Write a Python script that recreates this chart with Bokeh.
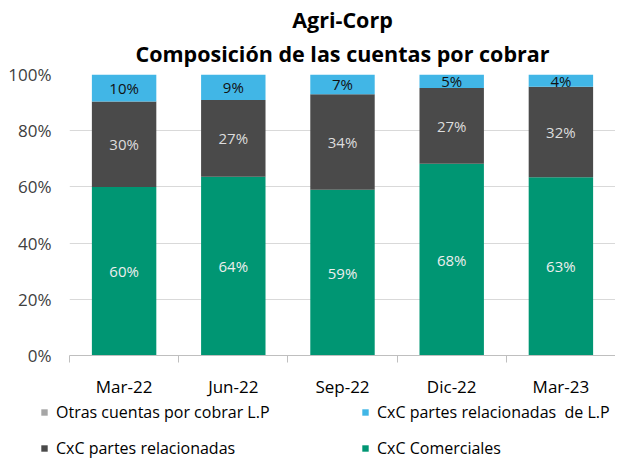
from bokeh.plotting import figure
from bokeh.models import (Title, FixedTicker, Legend, LegendItem, ColumnDataSource,
                          NumeralTickFormatter, Range1d)
from bokeh.core.properties import value
from bokeh.embed import file_html
from bokeh.resources import INLINE

categories = ["Mar-22", "Jun-22", "Sep-22", "Dic-22", "Mar-23"]
otras_lp = [0.0, 0.0, 0.0, 0.0, 0.0]
cxc_rel_lp = [9.6, 9.1, 7.0, 4.8, 4.4]
cxc_rel = [30.4, 27.3, 34.0, 27.0, 32.2]
cxc_com = [60.0, 63.6, 59.0, 68.2, 63.4]
series_names = ["Otras cuentas por cobrar L.P", "CxC partes relacionadas  de L.P",
                "CxC partes relacionadas", "CxC Comerciales"]
y_ticks = [0, 20, 40, 60, 80, 100]

FONT = "Open Sans"
GREEN = "#009673"
DARK = "#4a4a4a"
BLUE = "#41b6e6"
GRAY = "#a6a6a6"
W = 615

xs = [i + 0.5 for i in range(len(categories))]
src = ColumnDataSource(dict(
    x=xs,
    com=[v / 100 for v in cxc_com],
    rel=[v / 100 for v in cxc_rel],
    rellp=[v / 100 for v in cxc_rel_lp],
    otras=[v / 100 for v in otras_lp],
))

p = figure(width=W, height=400, output_backend="svg", toolbar_location=None,
           x_range=Range1d(0, len(categories)), y_range=Range1d(0, 1),
           min_border_left=69, min_border_right=0, min_border_bottom=42,
           min_border_top=74)
p.title = None
p.outline_line_color = None

p.add_layout(Title(text="Composición de las cuentas por cobrar", align="center",
                   text_font=FONT, text_font_size="21.5px", text_font_style="bold",
                   text_color="#000000", standoff=13), "above")
p.add_layout(Title(text="Agri-Corp", align="center",
                   text_font=FONT, text_font_size="21.5px", text_font_style="bold",
                   text_color="#000000", standoff=-7), "above")

rs = p.vbar_stack(["com", "rel", "rellp", "otras"], x="x", width=0.59, source=src,
                  color=[GREEN, DARK, BLUE, GRAY], line_color=None)

# data labels
cum = [0.0] * len(categories)
for vals, col in [(cxc_com, "#eeeeee"), (cxc_rel, "#dddddd"), (cxc_rel_lp, "#111111")]:
    ys = [(c + v / 2) / 100 for c, v in zip(cum, vals)]
    cum = [c + v for c, v in zip(cum, vals)]
    p.text(x=xs, y=ys, text=[f"{round(v)}%" for v in vals], text_align="center",
           text_baseline="middle", text_font=value(FONT), text_font_size="15px",
           text_color=col)

# axes
p.yaxis.ticker = FixedTicker(ticks=[t / 100 for t in y_ticks])
p.yaxis.formatter = NumeralTickFormatter(format="0%")
p.yaxis.axis_line_color = None
p.yaxis.major_tick_line_color = None
p.yaxis.minor_tick_line_color = None
p.yaxis.major_label_text_font = FONT
p.yaxis.major_label_text_font_size = "17px"
p.yaxis.major_label_text_color = "#404040"
p.yaxis.major_label_standoff = 12

p.xaxis.ticker = FixedTicker(ticks=xs, minor_ticks=list(range(len(categories) + 1)))
p.xaxis.major_label_overrides = {x: c for x, c in zip(xs, categories)}
p.xaxis.axis_line_color = "#bfbfbf"
p.xaxis.major_tick_line_color = None
p.xaxis.minor_tick_line_color = "#bfbfbf"
p.xaxis.minor_tick_out = 7
p.xaxis.minor_tick_in = 0
p.xaxis.major_label_text_font = FONT
p.xaxis.major_label_text_font_size = "17px"
p.xaxis.major_label_text_color = "#000000"
p.xaxis.major_label_standoff = 12

p.xgrid.grid_line_color = None
p.ygrid.grid_line_color = "#d9d9d9"
p.ygrid.ticker = FixedTicker(ticks=[t / 100 for t in y_ticks])

# legend panel (separate root so its frame is not aligned with the chart frame)
pl = figure(width=W, height=59, output_backend="svg", toolbar_location=None,
            x_axis_type=None, y_axis_type=None, x_range=Range1d(0, 1), y_range=Range1d(0, 1),
            min_border_left=0, min_border_right=0, min_border_top=0, min_border_bottom=0)
pl.title = None
pl.outline_line_color = None
pl.grid.grid_line_color = None
dummy = {}
for name, col in zip(series_names, [GRAY, BLUE, DARK, GREEN]):
    dummy[name] = pl.vbar(x=[-5], top=[0], width=0, color=col, line_color=None)

def mk_legend(names, loc):
    return Legend(items=[LegendItem(label=n, renderers=[dummy[n]]) for n in names],
                  location=loc, orientation="vertical",
                  label_text_font=FONT, label_text_font_size="16px",
                  label_text_color="#000000", glyph_width=8, glyph_height=8,
                  label_height=16, spacing=14, padding=0, margin=0,
                  border_line_color=None, background_fill_alpha=0,
                  label_standoff=8)

pl.add_layout(mk_legend([series_names[0], series_names[2]], (40, 0)), "center")
pl.add_layout(mk_legend([series_names[1], series_names[3]], (361, 0)), "center")

open("out.html", "w").write(file_html([p, pl], INLINE))
